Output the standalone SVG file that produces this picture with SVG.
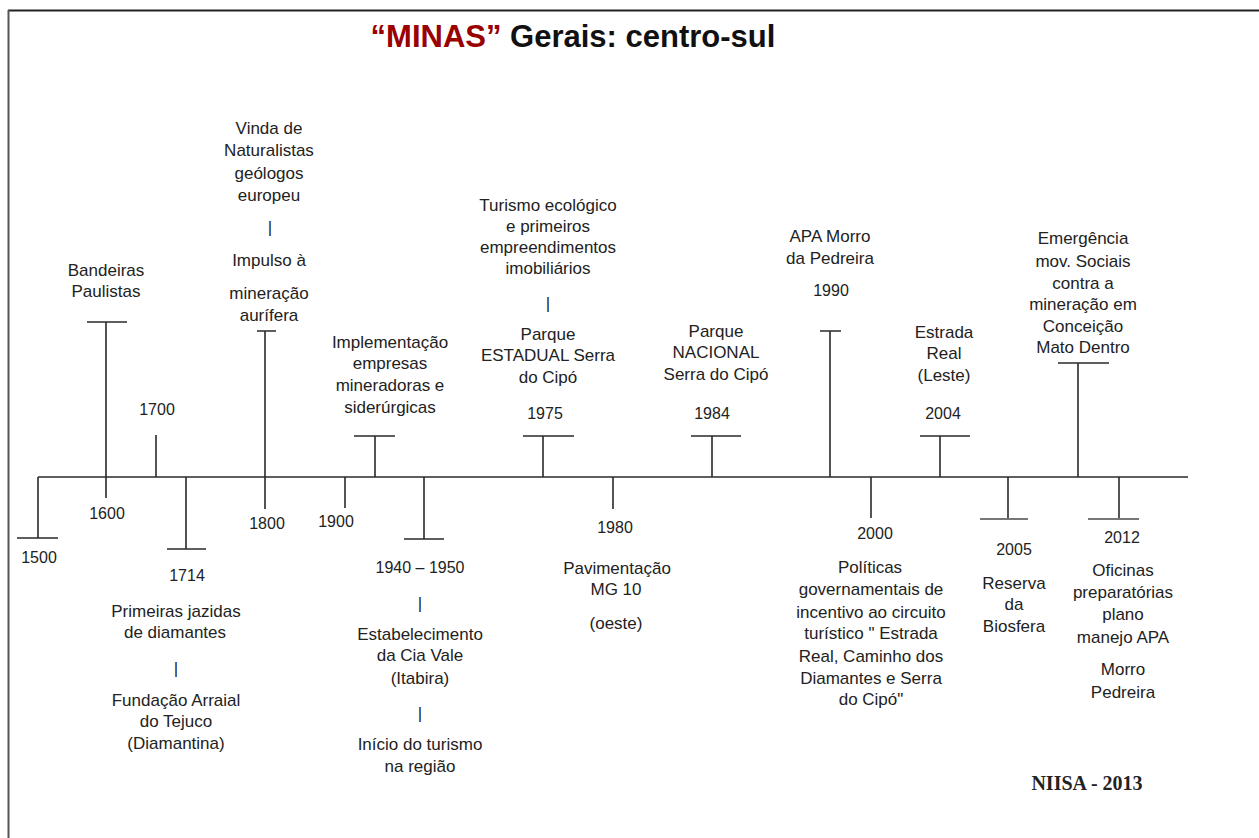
<svg xmlns="http://www.w3.org/2000/svg" width="1259" height="838" viewBox="0 0 1259 838">
<style>
.t{font-family:"Liberation Sans",Arial,sans-serif;font-size:17px;fill:#222;text-anchor:middle}
.y{font-family:"Liberation Sans",Arial,sans-serif;font-size:16px;fill:#222;text-anchor:middle}
.ln{stroke:#2a2a2a;stroke-width:1.6;fill:none}
.gb{stroke:#777;stroke-width:2.2;fill:none}
</style>
<rect width="1259" height="838" fill="#fff"/>
<g id="frame">
<line x1="8" y1="10.5" x2="1259" y2="10.5" stroke="#222" stroke-width="2"/>
<line x1="8.5" y1="10" x2="8.5" y2="838" stroke="#555" stroke-width="2"/>
</g>
<g id="title">
<text x="573" y="47" font-family="'Liberation Sans',Arial,sans-serif" font-size="31" font-weight="bold" text-anchor="middle"><tspan fill="#990000">“MINAS”</tspan><tspan fill="#111"> Gerais: centro-sul</tspan></text>
</g>
<g id="connectors">
<line class="ln" x1="38" y1="477" x2="1188" y2="477" stroke-width="2"/>
<path class="ln" d="M38 477V538M17 538H58"/>
<path class="ln" d="M106 322V498M87 322H127"/>
<path class="ln" d="M156 435V477"/>
<path class="ln" d="M186 477V549M167 549H206"/>
<path class="ln" d="M265 331V509M257 331H276"/>
<path class="ln" d="M345 477V508"/>
<path class="ln" d="M375 436V477M354 436H395"/>
<path class="ln" d="M424 477V539M404 539H444"/>
<path class="ln" d="M543 436V477M523 436H574"/>
<path class="ln" d="M613 477V509"/>
<path class="ln" d="M712 436V477M691 436H741"/>
<path class="ln" d="M830 331V477M820 331H841"/>
<path class="ln" d="M871 477V518"/>
<path class="ln" d="M940 436V477M920 436H970"/>
<path class="ln" d="M1008 477V519"/>
<path class="gb" d="M980 519H1028"/>
<path class="ln" d="M1078 363V477M1058 363H1109"/>
<path class="ln" d="M1119 477V519"/>
<path class="gb" d="M1088 519H1139"/>
</g>
<g id="n1500"><text class="y" x="39" y="563">1500</text></g>
<g id="n1600">
<text class="t" x="106" y="276">Bandeiras</text>
<text class="t" x="106" y="297">Paulistas</text>
<text class="y" x="107" y="519">1600</text>
</g>
<g id="n1700"><text class="y" x="157" y="415">1700</text></g>
<g id="n1714">
<text class="y" x="187" y="581">1714</text>
<text class="t" x="176" y="617">Primeiras jazidas</text>
<text class="t" x="175" y="638">de diamantes</text>
<text class="t" x="176" y="674">|</text>
<text class="t" x="176" y="706">Fundação Arraial</text>
<text class="t" x="176" y="727">do Tejuco</text>
<text class="t" x="176" y="749">(Diamantina)</text>
</g>
<g id="n1800">
<text class="t" x="269" y="134">Vinda de</text>
<text class="t" x="269" y="156">Naturalistas</text>
<text class="t" x="269" y="179">geólogos</text>
<text class="t" x="269" y="201">europeu</text>
<text class="t" x="270" y="233">|</text>
<text class="t" x="269" y="266">Impulso à</text>
<text class="t" x="269" y="299">mineração</text>
<text class="t" x="269" y="321">aurífera</text>
<text class="y" x="267" y="529">1800</text>
</g>
<g id="n1900"><text class="y" x="336" y="527">1900</text></g>
<g id="nImpl">
<text class="t" x="390" y="348">Implementação</text>
<text class="t" x="390" y="369">empresas</text>
<text class="t" x="390" y="391">mineradoras e</text>
<text class="t" x="390" y="413">siderúrgicas</text>
</g>
<g id="n1940">
<text class="y" x="420" y="573">1940 – 1950</text>
<text class="t" x="420" y="609">|</text>
<text class="t" x="420" y="640">Estabelecimento</text>
<text class="t" x="420" y="661">da Cia Vale</text>
<text class="t" x="420" y="684">(Itabira)</text>
<text class="t" x="420" y="719">|</text>
<text class="t" x="420" y="750">Início do turismo</text>
<text class="t" x="420" y="772">na região</text>
</g>
<g id="n1975">
<text class="t" x="548" y="211">Turismo ecológico</text>
<text class="t" x="548" y="232">e primeiros</text>
<text class="t" x="548" y="253">empreendimentos</text>
<text class="t" x="548" y="274">imobiliários</text>
<text class="t" x="548" y="309">|</text>
<text class="t" x="548" y="340">Parque</text>
<text class="t" x="548" y="361">ESTADUAL Serra</text>
<text class="t" x="548" y="383">do Cipó</text>
<text class="y" x="545" y="419">1975</text>
</g>
<g id="n1980">
<text class="y" x="615" y="533">1980</text>
<text class="t" x="617" y="574">Pavimentação</text>
<text class="t" x="616" y="595">MG 10</text>
<text class="t" x="616" y="629">(oeste)</text>
</g>
<g id="n1984">
<text class="t" x="716" y="337">Parque</text>
<text class="t" x="716" y="358">NACIONAL</text>
<text class="t" x="716" y="380">Serra do Cipó</text>
<text class="y" x="712" y="419">1984</text>
</g>
<g id="n1990">
<text class="t" x="830" y="242">APA Morro</text>
<text class="t" x="830" y="264">da Pedreira</text>
<text class="y" x="831" y="296">1990</text>
</g>
<g id="n2000">
<text class="y" x="875" y="539">2000</text>
<text class="t" x="870" y="573">Políticas</text>
<text class="t" x="871" y="595">governamentais de</text>
<text class="t" x="871" y="618">incentivo ao circuito</text>
<text class="t" x="871" y="639">turístico " Estrada</text>
<text class="t" x="871" y="662">Real, Caminho dos</text>
<text class="t" x="871" y="684">Diamantes e Serra</text>
<text class="t" x="871" y="705">do Cipó"</text>
</g>
<g id="n2004">
<text class="t" x="944" y="338">Estrada</text>
<text class="t" x="944" y="359">Real</text>
<text class="t" x="944" y="381">(Leste)</text>
<text class="y" x="943" y="419">2004</text>
</g>
<g id="n2005">
<text class="y" x="1014" y="555">2005</text>
<text class="t" x="1014" y="589">Reserva</text>
<text class="t" x="1014" y="610">da</text>
<text class="t" x="1014" y="632">Biosfera</text>
</g>
<g id="nEmerg">
<text class="t" x="1083" y="244">Emergência</text>
<text class="t" x="1083" y="267">mov. Sociais</text>
<text class="t" x="1083" y="289">contra a</text>
<text class="t" x="1083" y="310">mineração em</text>
<text class="t" x="1083" y="332">Conceição</text>
<text class="t" x="1083" y="353">Mato Dentro</text>
</g>
<g id="n2012">
<text class="y" x="1122" y="543">2012</text>
<text class="t" x="1123" y="576">Oficinas</text>
<text class="t" x="1123" y="598">preparatórias</text>
<text class="t" x="1123" y="620">plano</text>
<text class="t" x="1123" y="643">manejo APA</text>
<text class="t" x="1123" y="675">Morro</text>
<text class="t" x="1123" y="698">Pedreira</text>
</g>
<g id="credit">
<text x="1087" y="790" font-family="'Liberation Serif','Times New Roman',serif" font-size="20" font-weight="bold" fill="#222" text-anchor="middle">NIISA - 2013</text>
</g>
</svg>
